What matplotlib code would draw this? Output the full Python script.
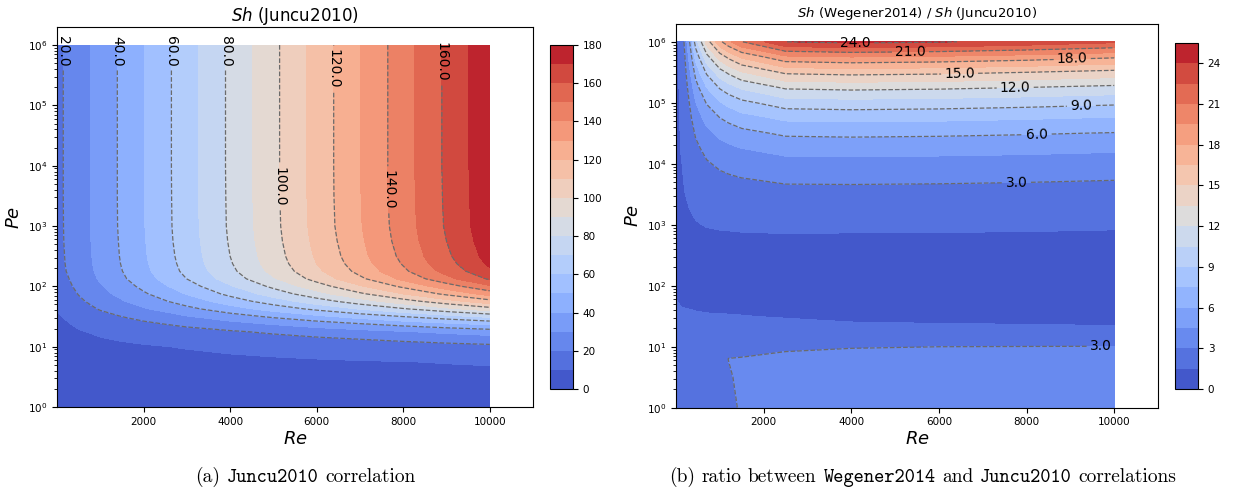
import numpy as np
import matplotlib
matplotlib.use('Agg')
import matplotlib.pyplot as plt
from matplotlib.ticker import FixedLocator, FuncFormatter
from matplotlib.offsetbox import TextArea, HPacker, AnchoredOffsetbox

# ---- values ----
# (a) Sh of the Juncu2010 correlation on a Re x log10(Pe) grid
re_a = [1, 200, 500, 1000, 1500, 2000, 3000, 4000, 5000, 6000, 7000, 8000, 9000, 10000]
log_pe_a = [0, 0.5, 0.75, 1.0, 1.125, 1.25, 1.375, 1.5, 1.625, 1.75, 1.875, 2.0,
            2.125, 2.25, 2.375, 2.5, 2.75, 3.0, 3.5, 4.0, 5.0, 6.0]
sh_juncu = [
    [6.6, 6.6, 6.7, 6.7, 6.7, 6.7, 6.8, 6.8, 6.9, 6.9, 7.0, 7.0, 7.1, 7.1],
    [6.7, 6.7, 6.8, 6.8, 6.9, 7.0, 7.1, 7.3, 7.4, 7.6, 7.7, 7.9, 8.0, 8.1],
    [6.7, 6.8, 7.0, 7.3, 7.4, 7.6, 8.0, 8.4, 8.8, 9.2, 9.6, 9.9, 10.3, 10.7],
    [7.0, 7.2, 7.7, 8.4, 8.9, 9.4, 10.4, 11.5, 12.5, 13.6, 14.6, 15.6, 16.7, 17.7],
    [7.2, 7.6, 8.5, 9.6, 10.5, 11.3, 13.1, 14.9, 16.6, 18.4, 20.1, 21.9, 23.7, 25.4],
    [7.6, 8.3, 9.5, 11.1, 12.4, 13.7, 16.4, 19.0, 21.6, 24.3, 26.9, 29.6, 32.2, 34.8],
    [8.2, 9.2, 11.2, 13.8, 15.9, 18.0, 22.3, 26.5, 30.7, 35.0, 39.2, 43.5, 47.7, 51.9],
    [9.1, 10.7, 13.4, 17.0, 20.1, 23.2, 29.4, 35.5, 41.7, 47.8, 54.0, 60.2, 66.3, 72.5],
    [10.4, 12.5, 16.0, 20.7, 24.9, 29.0, 37.3, 45.7, 54.0, 62.3, 70.6, 78.9, 87.3, 95.6],
    [11.8, 14.4, 18.3, 23.9, 29.1, 34.2, 44.4, 54.7, 64.9, 75.1, 85.4, 95.6, 105.9, 116.1],
    [13.3, 16.0, 20.4, 26.8, 32.8, 38.7, 50.6, 62.6, 74.5, 86.4, 98.3, 110.2, 122.2, 134.1],
    [14.5, 17.5, 22.2, 29.1, 35.7, 42.4, 55.7, 68.9, 82.2, 95.5, 108.8, 122.1, 135.3, 148.6],
    [15.5, 18.7, 23.6, 31.1, 38.4, 45.6, 60.1, 74.6, 89.0, 103.5, 118.0, 132.5, 147.0, 161.4],
    [16.3, 19.8, 24.6, 32.2, 39.8, 47.3, 62.5, 77.6, 92.7, 107.8, 122.9, 138.1, 153.2, 168.3],
    [16.9, 20.2, 24.9, 32.8, 40.5, 48.2, 63.6, 79.1, 94.5, 110.0, 125.4, 140.8, 156.3, 171.7],
    [17.2, 20.4, 25.2, 33.1, 40.9, 48.7, 64.3, 80.0, 95.6, 111.2, 126.9, 142.5, 158.1, 173.8],
    [17.5, 20.7, 25.5, 33.4, 41.3, 49.2, 65.1, 80.9, 96.7, 112.5, 128.3, 144.2, 160.0, 175.8],
    [17.6, 20.8, 25.6, 33.6, 41.6, 49.5, 65.5, 81.4, 97.3, 113.3, 129.2, 145.1, 161.1, 177.0],
    [17.7, 20.9, 25.7, 33.7, 41.7, 49.7, 65.6, 81.6, 97.6, 113.6, 129.6, 145.6, 161.5, 177.5],
    [17.7, 20.9, 25.7, 33.7, 41.7, 49.7, 65.7, 81.7, 97.7, 113.7, 129.7, 145.7, 161.7, 177.7],
    [17.7, 20.9, 25.7, 33.7, 41.7, 49.7, 65.7, 81.7, 97.7, 113.7, 129.7, 145.7, 161.7, 177.7],
    [17.7, 20.9, 25.7, 33.7, 41.7, 49.7, 65.7, 81.7, 97.7, 113.7, 129.7, 145.7, 161.7, 177.7],
]
levels_a = [0, 10, 20, 30, 40, 50, 60, 70, 80, 90, 100, 110, 120, 130, 140, 150, 160, 170, 180]
lines_a = [20, 40, 60, 80, 100, 120, 140, 160]
cbar_ticks_a = [0, 20, 40, 60, 80, 100, 120, 140, 160, 180]

# (b) ratio Sh(Wegener2014) / Sh(Juncu2010)
re_b = [1, 100, 150, 200, 300, 450, 700, 1000, 1200, 1500, 2500, 4000, 6000, 8000, 10000]
log_pe_b = [0, 0.5, 0.8, 1.0, 1.25, 1.5, 1.75, 2.0, 2.5, 2.75, 3.0, 3.25, 3.5, 3.75,
            4.0, 4.25, 4.5, 4.75, 5.0, 5.25, 5.5, 5.75, 6.0]
sh_ratio = [
    [1.90, 1.90, 1.90, 1.90, 1.95, 2.00, 2.10, 2.20, 2.20, 3.40, 3.50, 3.55, 3.60, 3.65, 3.70],
    [1.95, 1.95, 2.00, 2.00, 2.10, 2.15, 2.30, 2.50, 2.85, 3.30, 3.40, 3.45, 3.50, 3.50, 3.55],
    [2.00, 2.00, 2.05, 2.10, 2.15, 2.25, 2.40, 2.60, 3.02, 3.05, 3.15, 3.20, 3.25, 3.28, 3.30],
    [2.00, 2.00, 2.00, 2.05, 2.10, 2.20, 2.35, 2.45, 2.60, 2.70, 2.90, 2.97, 3.00, 3.02, 3.04],
    [1.90, 1.85, 1.85, 1.88, 1.90, 1.95, 2.00, 2.00, 2.00, 2.05, 2.05, 2.00, 1.95, 1.90, 1.82],
    [1.75, 1.68, 1.67, 1.66, 1.65, 1.62, 1.58, 1.56, 1.55, 1.53, 1.42, 1.20, 1.10, 1.05, 1.00],
    [1.55, 1.40, 1.38, 1.36, 1.33, 1.27, 1.22, 1.20, 1.20, 1.15, 1.05, 0.95, 0.90, 0.88, 0.86],
    [1.30, 1.15, 1.15, 1.12, 1.10, 1.05, 1.00, 1.00, 1.00, 1.00, 0.90, 0.82, 0.80, 0.78, 0.76],
    [1.15, 1.42, 1.41, 1.38, 1.32, 1.26, 1.22, 1.18, 1.16, 1.15, 1.12, 1.10, 1.09, 1.08, 1.06],
    [1.14, 1.42, 1.41, 1.40, 1.36, 1.34, 1.36, 1.35, 1.35, 1.36, 1.37, 1.35, 1.34, 1.33, 1.30],
    [1.14, 1.42, 1.42, 1.42, 1.41, 1.46, 1.53, 1.58, 1.60, 1.63, 1.68, 1.67, 1.66, 1.64, 1.60],
    [1.13, 1.43, 1.43, 1.45, 1.49, 1.60, 1.76, 1.87, 1.91, 1.98, 2.08, 2.08, 2.06, 2.03, 1.98],
    [1.13, 1.44, 1.45, 1.49, 1.58, 1.79, 2.04, 2.22, 2.30, 2.41, 2.58, 2.59, 2.56, 2.51, 2.45],
    [1.13, 1.45, 1.48, 1.54, 1.70, 2.02, 2.40, 2.68, 2.80, 2.95, 3.21, 3.23, 3.20, 3.14, 3.05],
    [1.13, 1.47, 1.51, 1.61, 1.85, 2.32, 2.85, 3.24, 3.42, 3.64, 4.00, 4.04, 3.99, 3.91, 3.80],
    [1.13, 1.50, 1.55, 1.70, 2.04, 2.69, 3.41, 3.96, 4.20, 4.49, 5.00, 5.05, 4.99, 4.89, 4.74],
    [1.13, 1.53, 1.61, 1.81, 2.28, 3.16, 4.11, 4.86, 5.18, 5.57, 6.24, 6.32, 6.25, 6.11, 5.93],
    [1.13, 1.57, 1.67, 1.94, 2.59, 3.74, 5.00, 5.98, 6.40, 6.92, 7.80, 7.91, 7.82, 7.64, 7.41],
    [1.13, 1.62, 1.76, 2.11, 2.96, 4.47, 6.11, 7.38, 7.94, 8.61, 9.76, 9.91, 9.79, 9.57, 9.27],
    [1.13, 1.68, 1.86, 2.32, 3.44, 5.39, 7.51, 9.15, 9.87, 10.74, 12.22, 12.41, 12.26, 11.98, 11.60],
    [1.13, 1.76, 1.99, 2.59, 4.03, 6.54, 9.25, 11.36, 12.29, 13.40, 15.29, 15.54, 15.36, 15.00, 14.52],
    [1.13, 1.85, 2.16, 2.93, 4.78, 7.98, 11.45, 14.14, 15.33, 16.74, 19.16, 19.49, 19.25, 18.80, 18.20],
    [1.13, 1.97, 2.36, 3.35, 5.71, 9.79, 14.19, 17.61, 19.12, 20.92, 23.99, 24.41, 24.12, 23.54, 22.79],
]
levels_b = [0, 1.5, 3, 4.5, 6, 7.5, 9, 10.5, 12, 13.5, 15, 16.5, 18, 19.5, 21, 22.5, 24, 25.5]
lines_b = [3, 6, 9, 12, 15, 18, 21, 24]
cbar_ticks_b = [0, 3, 6, 9, 12, 15, 18, 21, 24]

# where the contour labels sit (Re, log10 Pe)
label_pos_a = [(150, 5.9), (1420, 5.9), (2670, 5.9), (3910, 5.9), (5130, 3.65),
               (6400, 5.6), (7650, 3.6), (8920, 5.72)]
label_pos_b = [(4100, 6.0), (5350, 5.88), (9040, 5.77), (6470, 5.5), (7740, 5.27),
               (9250, 4.96), (8240, 4.5), (7770, 3.72), (9700, 1.01)]

fig = plt.figure(figsize=(12.35, 4.92), dpi=100)
ax_a = fig.add_axes([0.0462, 0.1728, 0.3854, 0.7724])
cax_a = fig.add_axes([0.4453, 0.2093, 0.0186, 0.6992])
ax_b = fig.add_axes([0.5474, 0.1713, 0.3903, 0.7809])
cax_b = fig.add_axes([0.9514, 0.2093, 0.0186, 0.7033])


def draw(ax, cax, re, log_pe, z, levels, line_levels, cticks, label_pos):
    z = np.array(z)
    cf = ax.contourf(re, log_pe, z, levels=levels, cmap='coolwarm')
    cl = ax.contour(re, log_pe, z, levels=line_levels, colors='0.42',
                    linestyles='dashed', linewidths=0.9)
    labels = ax.clabel(cl, fmt='%.1f', colors='k', fontsize=10, inline=True, manual=label_pos)
    # near-vertical labels read top to bottom, as in the reference
    for t in labels:
        if abs(abs(t.get_rotation() % 180) - 90) < 15:
            t.set_rotation(-90)
    cb = fig.colorbar(cf, cax=cax, ticks=cticks)
    cb.ax.tick_params(labelsize=7.5)

    ax.set_xlim(1, 11000)
    ax.set_ylim(0, 6.3)
    ax.xaxis.set_major_locator(FixedLocator([2000, 4000, 6000, 8000, 10000]))
    ax.yaxis.set_major_locator(FixedLocator(range(7)))
    ax.yaxis.set_major_formatter(FuncFormatter(lambda v, p: r'$\mathdefault{10^{%d}}$' % v))
    minor = [n + np.log10(k) for n in range(6) for k in range(2, 10)]
    ax.yaxis.set_minor_locator(FixedLocator(minor))
    ax.tick_params(labelsize=7.5)
    ax.set_xlabel(r'$Re$', fontsize=13)
    ax.set_ylabel(r'$Pe$', fontsize=13)


draw(ax_a, cax_a, re_a, log_pe_a, sh_juncu, levels_a, lines_a, cbar_ticks_a, label_pos_a)
draw(ax_b, cax_b, re_b, log_pe_b, sh_ratio, levels_b, lines_b, cbar_ticks_b, label_pos_b)

ax_a.set_title(r'$Sh$ (Juncu2010)', fontsize=12, pad=3.5)
ax_b.set_title(r'$Sh$ (Wegener2014) / $Sh$ (Juncu2010)', fontsize=9.5, pad=5)
ax_a.xaxis.set_label_coords(0.5, -0.06)
ax_b.xaxis.set_label_coords(0.5, -0.058)
ax_a.yaxis.set_label_coords(-0.071, 0.5)
ax_b.yaxis.set_label_coords(-0.07, 0.5)


def caption(words, x, y):
    # words: (text, font family) pieces, one space apart, on one baseline
    boxes = [TextArea(s, textprops=dict(family=fam, size=14)) for s, fam in words]
    row = HPacker(children=boxes, align='baseline', pad=0, sep=4.8)
    box = AnchoredOffsetbox(loc='center', child=row, pad=0, borderpad=0, frameon=False,
                            bbox_to_anchor=(x, y), bbox_transform=fig.transFigure)
    fig.add_artist(box)


caption([('(a)', 'cmr10'), ('Juncu2010', 'cmtt10'), ('correlation', 'cmr10')],
        0.247, 0.031)
caption([('(b)', 'cmr10'), ('ratio', 'cmr10'), ('between', 'cmr10'),
         ('Wegener2014', 'cmtt10'), ('and', 'cmr10'), ('Juncu2010', 'cmtt10'),
         ('correlations', 'cmr10')], 0.747, 0.031)

fig.savefig('out.png', dpi=100)
